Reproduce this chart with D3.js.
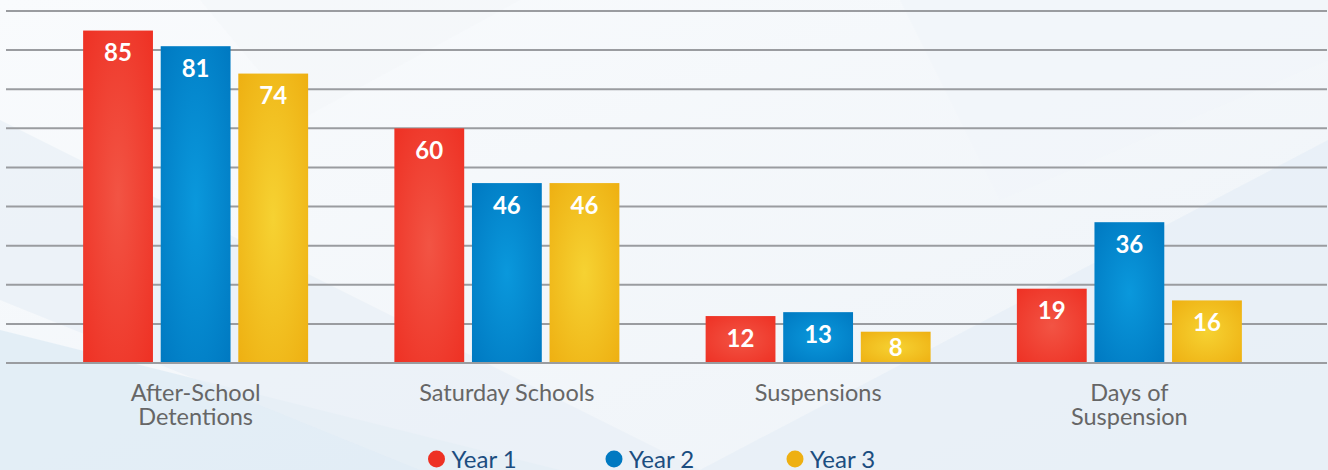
<!DOCTYPE html>
<html><head><meta charset="utf-8">
<script src="https://cdn.jsdelivr.net/npm/d3@7"></script>
<style>html,body{margin:0;padding:0;background:#f7f9fc;}svg{display:block;}</style>
</head><body>
<svg id="chart" width="1328" height="470"></svg>
<script>
const categories = [["After-School","Detentions"],["Saturday Schools"],["Suspensions"],["Days of","Suspension"]];
const categoryKeys = ["After-School Detentions","Saturday Schools","Suspensions","Days of Suspension"];
const seriesNames = ["Year 1","Year 2","Year 3"];
const year1 = [85, 60, 12, 19];
const year2 = [81, 46, 13, 36];
const year3 = [74, 46, 8, 16];
const gridTicks = [0,10,20,30,40,50,60,70,80,90];

const colors = [
  {edge:"#ee3124", mid:"#f25444"},
  {edge:"#0079c1", mid:"#0a98dc"},
  {edge:"#eeb012", mid:"#f6d232"}
];

const W = 1328, H = 470;
const svg = d3.select("#chart");
const defs = svg.append("defs");

// background
const bg = defs.append("linearGradient").attr("id","bg").attr("x1","0").attr("y1","0").attr("x2","1").attr("y2","1");
bg.append("stop").attr("offset","0").attr("stop-color","#f9fbfd");
bg.append("stop").attr("offset","1").attr("stop-color","#eef3f8");
svg.append("rect").attr("width",W).attr("height",H).attr("fill","url(#bg)");
const shapes = [
  [[0,330],[560,470],[0,470]],
  [[0,120],[700,470],[420,470],[0,300]],
  [[700,470],[1328,140],[1328,470]],
  [[900,0],[1328,0],[1328,60],[1000,200]],
  [[200,0],[520,0],[300,120]]
];
const shapeFills = ["#dce9f4","#e8f0f7","#e6eef6","#f1f5f9","#f3f6fa"];
svg.selectAll("polygon.bgs").data(shapes).join("polygon").attr("class","bgs")
  .attr("points",d=>d.map(p=>p.join(",")).join(" "))
  .attr("fill",(d,i)=>shapeFills[i]).attr("opacity",0.7);

colors.forEach((c,i)=>{
  const g = defs.append("radialGradient").attr("id","g"+i).attr("cx","0.5").attr("cy","0.5").attr("r","0.7");
  g.append("stop").attr("offset","0").attr("stop-color",c.mid);
  g.append("stop").attr("offset","1").attr("stop-color",c.edge);
});

const x0 = d3.scaleBand().domain(categoryKeys).range([40,1285]).paddingInner(0).paddingOuter(0);
const x1 = d3.scaleBand().domain(seriesNames).range([x0.bandwidth()/2-112.5, x0.bandwidth()/2+112.5]).paddingInner(0.1);
const y = d3.scaleLinear().domain([0,90]).range([363,11]);

// gridlines
svg.append("g").selectAll("line").data(gridTicks).join("line")
  .attr("x1",6).attr("x2",1327)
  .attr("y1",d=>y(d)).attr("y2",d=>y(d))
  .attr("stroke","#9a9ca0").attr("stroke-width",2);

const series = [year1, year2, year3];
const groups = svg.append("g").selectAll("g").data(categoryKeys).join("g")
  .attr("transform",d=>`translate(${x0(d)},0)`);

groups.each(function(cat, ci){
  const g = d3.select(this);
  const data = seriesNames.map((s,si)=>({s, si, v: series[si][ci]}));
  g.selectAll("rect").data(data).join("rect")
    .attr("x",d=>x1(d.s)).attr("width",x1.bandwidth())
    .attr("y",d=>y(d.v)).attr("height",d=>y(0)-y(d.v))
    .attr("fill",d=>`url(#g${d.si})`);
  g.selectAll("text").data(data).join("text")
    .attr("x",d=>x1(d.s)+x1.bandwidth()/2)
    .attr("y",d=>{const h=y(0)-y(d.v); return y(d.v)+Math.min(30.5, h/2+8.5);})
    .attr("text-anchor","middle")
    .attr("font-family","Lato, sans-serif").attr("font-weight","bold").attr("font-size",24)
    .attr("fill","#fff").text(d=>d.v);
});

// baseline redraw on top
svg.append("line").attr("x1",6).attr("x2",1327).attr("y1",y(0)).attr("y2",y(0))
  .attr("stroke","#9a9ca0").attr("stroke-width",2);

// category labels
const labels = svg.append("g").selectAll("text").data(categories).join("text")
  .attr("x",(d,i)=>x0(categoryKeys[i])+x0.bandwidth()/2)
  .attr("y",401)
  .attr("text-anchor","middle")
  .attr("font-family","Lato, sans-serif").attr("font-size",23.5).attr("fill","#666");
labels.each(function(d){
  d3.select(this).selectAll("tspan").data(d).join("tspan")
    .attr("x",d3.select(this).attr("x"))
    .attr("dy",(t,i)=>i===0?0:23.5).text(t=>t);
});

// legend
const legendX = [436.5, 614, 795];
const lg = svg.append("g").selectAll("g").data(seriesNames).join("g")
  .attr("transform",(d,i)=>`translate(${legendX[i]},459)`);
lg.append("circle").attr("r",8.5).attr("fill",(d,i)=>colors[i].edge);
lg.append("text").attr("x",15).attr("y",9).attr("font-family","Lato, sans-serif")
  .attr("font-size",24).attr("fill","#1b4d80").text(d=>d);
</script>
</body></html>
